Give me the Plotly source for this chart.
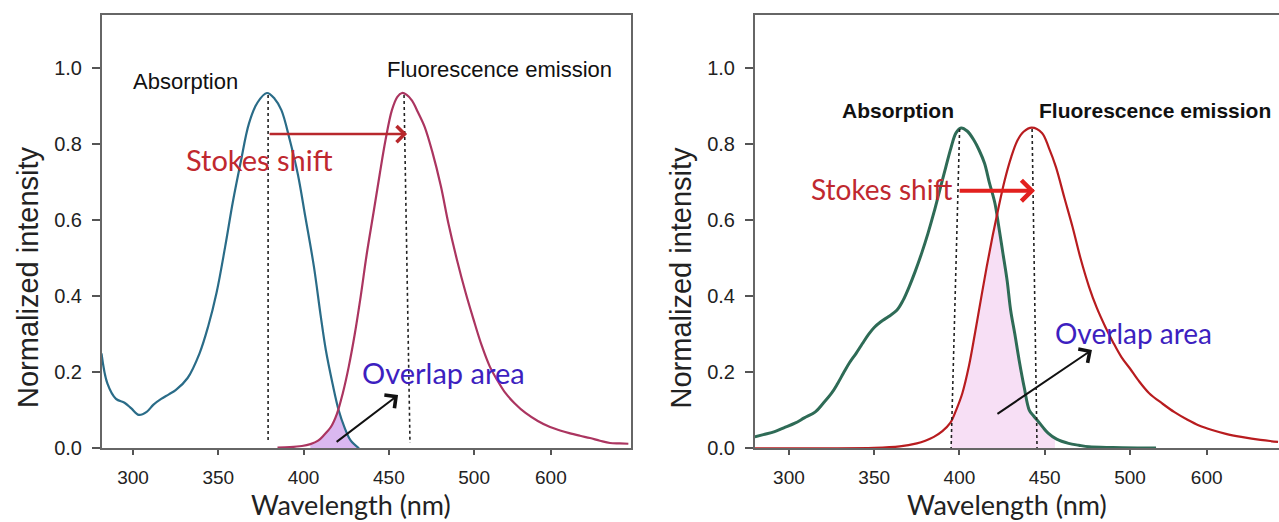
import numpy as np
import plotly.graph_objects as go

# ---------------- data (wavelength in nm, normalized intensity) ----------------
# Left panel
abs1_wl = [281.5, 285, 290, 295, 299, 303.4, 308, 312, 316.5, 321, 325, 332, 339, 344, 349, 354,
           358.6, 363, 368, 373, 378.5, 383, 387, 392, 396.7, 401, 406, 410, 413, 417, 420.6, 424,
           427.7, 432.5]
abs1_val = [0.25, 0.17, 0.13, 0.12, 0.105, 0.088, 0.096, 0.115, 0.13, 0.142, 0.153, 0.185, 0.25,
            0.32, 0.41, 0.53, 0.65, 0.75, 0.855, 0.91, 0.935, 0.92, 0.89, 0.81, 0.72, 0.61, 0.48,
            0.35, 0.26, 0.17, 0.10, 0.055, 0.02, 0.0]
em1_wl = [384.7, 392, 399, 404, 408.5, 412, 416, 419.5, 423, 426.5, 430, 433.5, 437, 441, 444.6,
          448, 451.8, 455, 457.7, 460.5, 463.6, 467, 471, 475.5, 480.5, 485, 490, 495, 499.6, 510,
          520.5, 530, 541, 553, 567, 583, 599, 612, 624, 638, 651, 664, 677, 690, 701]
em1_val = [0.002, 0.003, 0.006, 0.011, 0.02, 0.035, 0.056, 0.09, 0.145, 0.215, 0.30, 0.40, 0.51,
           0.62, 0.72, 0.81, 0.89, 0.925, 0.935, 0.93, 0.915, 0.885, 0.846, 0.78, 0.69, 0.59,
           0.495, 0.41, 0.34, 0.27, 0.215, 0.18, 0.145, 0.118, 0.093, 0.072, 0.056, 0.047, 0.04,
           0.033, 0.027, 0.02, 0.014, 0.013, 0.012]

# Right panel
abs2_wl = [280, 285, 291.6, 297, 303.5, 309, 315.5, 320, 325, 328.5, 332, 335.5, 339.4, 343, 346.7,
           350, 353.9, 358.5, 363.4, 367, 370.5, 374, 377.8, 381.5, 385, 388.5, 392, 395, 398, 401,
           404.5, 408.6, 411.5, 414.7, 417.5, 420.8, 423, 425.5, 428, 430, 432.5, 435, 438, 441,
           443.5, 446, 449, 452, 457, 464, 470, 476, 490, 510, 534]
abs2_val = [0.03, 0.036, 0.044, 0.054, 0.066, 0.08, 0.096, 0.118, 0.145, 0.17, 0.198, 0.225, 0.25,
            0.275, 0.30, 0.318, 0.333, 0.347, 0.364, 0.39, 0.425, 0.465, 0.513, 0.565, 0.62, 0.68,
            0.74, 0.79, 0.83, 0.843, 0.835, 0.81, 0.785, 0.75, 0.70, 0.645, 0.585, 0.513, 0.44,
            0.364, 0.30, 0.232, 0.16, 0.10, 0.085, 0.072, 0.055, 0.04, 0.024, 0.013, 0.008, 0.004,
            0.002, 0.001, 0.001]
em2_wl = [280, 320, 350, 365, 375, 380, 385, 390, 394.5, 398, 401.7, 405.5, 409, 412.5, 416, 419.5,
          423, 426.5, 430.4, 434, 437.6, 442.4, 448.4, 452.5, 456.6, 461.5, 466.3, 471, 476, 480.5,
          485.5, 490, 495, 500, 510.5, 525, 542, 558, 575, 590, 607, 625, 645, 670, 693]
em2_val = [0.0, 0.0, 0.001, 0.005, 0.013, 0.02, 0.03, 0.045, 0.066, 0.10, 0.145, 0.215, 0.30, 0.39,
           0.478, 0.56, 0.635, 0.705, 0.767, 0.81, 0.833, 0.844, 0.83, 0.79, 0.74, 0.66, 0.583,
           0.50, 0.425, 0.37, 0.32, 0.28, 0.24, 0.21, 0.18, 0.145, 0.118, 0.095, 0.075, 0.06, 0.048,
           0.038, 0.03, 0.022, 0.017]

tick_wl = [300, 350, 400, 450, 500, 600]
tick_labels = ["300", "350", "400", "450", "500", "600"]
y_ticks = [0.0, 0.2, 0.4, 0.6, 0.8, 1.0]

# --------------- axis warp: axis is compressed above 500 nm ----------------
K = 0.45


def to_axis(lam):
    lam = np.asarray(lam, dtype=float)
    return np.where(lam <= 500, lam, 500 + (lam - 500) * K)


W, H = 1279, 522

C_ABS1 = "#2a6c88"
C_EM1 = "#ab3560"
C_ABS2 = "#2e6b56"
C_EM2 = "#b81c1f"
C_STOKES = "#c0282f"
C_OVER = "#3d1fc0"

fig = go.Figure()


def overlap(a_wl, a_v, e_wl, e_v, lo, hi):
    g = np.linspace(lo, hi, 80)
    m = np.minimum(np.interp(g, a_wl, a_v), np.interp(g, e_wl, e_v))
    return g, m


g1, m1 = overlap(abs1_wl, abs1_val, em1_wl, em1_val, 404, 433)
g2, m2 = overlap(abs2_wl, abs2_val, em2_wl, em2_val, 395, 456)

fig.add_trace(go.Scatter(x=to_axis(g1), y=m1, fill="tozeroy", fillcolor="#dab8f0",
                         line=dict(width=0), mode="lines", xaxis="x", yaxis="y",
                         hoverinfo="skip", showlegend=False))
fig.add_trace(go.Scatter(x=to_axis(g2), y=m2, fill="tozeroy", fillcolor="#f7dff5",
                         line=dict(width=0), mode="lines", xaxis="x2", yaxis="y2",
                         hoverinfo="skip", showlegend=False))

fig.add_trace(go.Scatter(x=to_axis(abs1_wl), y=abs1_val, mode="lines", name="Absorption",
                         line=dict(color=C_ABS1, width=2.2, shape="spline"), xaxis="x", yaxis="y",
                         showlegend=False))
fig.add_trace(go.Scatter(x=to_axis(em1_wl), y=em1_val, mode="lines", name="Fluorescence emission",
                         line=dict(color=C_EM1, width=2.2, shape="spline"), xaxis="x", yaxis="y",
                         showlegend=False))
fig.add_trace(go.Scatter(x=to_axis(abs2_wl), y=abs2_val, mode="lines", name="Absorption",
                         line=dict(color=C_ABS2, width=3, shape="spline"), xaxis="x2", yaxis="y2",
                         showlegend=False))
fig.add_trace(go.Scatter(x=to_axis(em2_wl), y=em2_val, mode="lines", name="Fluorescence emission",
                         line=dict(color=C_EM2, width=2.2, shape="spline"), xaxis="x2", yaxis="y2",
                         showlegend=False))

# dotted peak markers
dots = [("x", "y", 379.2, 0.93, 379.2, 0.015),
        ("x", "y", 458.9, 0.93, 462.4, 0.014),
        ("x2", "y2", 400.1, 0.84, 395.1, 0.0),
        ("x2", "y2", 442.6, 0.84, 445.5, 0.0)]
for xr, yr, x0, y0, x1, y1 in dots:
    fig.add_shape(type="line", xref=xr, yref=yr, x0=x0, y0=y0, x1=x1, y1=y1,
                  line=dict(color="#222", width=1.6, dash="dot"))

ann = []
# arrows
ann.append(dict(xref="x", yref="y", axref="x", ayref="y", x=460.7, y=0.827, ax=379.2, ay=0.827,
                text="", showarrow=True, arrowhead=4, arrowsize=1.2, arrowwidth=2.6,
                arrowcolor="#b8282c"))
ann.append(dict(xref="x", yref="y", axref="x", ayref="y", x=455.4, y=0.14, ax=418.5, ay=0.014,
                text="", showarrow=True, arrowhead=4, arrowsize=1.6, arrowwidth=2,
                arrowcolor="#111"))
ann.append(dict(xref="x2", yref="y2", axref="x2", ayref="y2", x=444.3, y=0.678, ax=399.2, ay=0.678,
                text="", showarrow=True, arrowhead=4, arrowsize=1.0, arrowwidth=4,
                arrowcolor="#e2201e"))
ann.append(dict(xref="x2", yref="y2", axref="x2", ayref="y2", x=477.7, y=0.259, ax=421.4, ay=0.088,
                text="", showarrow=True, arrowhead=4, arrowsize=1.6, arrowwidth=2,
                arrowcolor="#111"))

LAB = "Liberation Sans, Arial, sans-serif"
HUM = "Lato, Open Sans, sans-serif"
# text labels
ann += [
    dict(xref="x", yref="y", x=330.5, y=0.964, text="Absorption", showarrow=False,
         font=dict(family=LAB, size=22, color="#111")),
    dict(xref="x", yref="y", x=514.6, y=0.998, text="Fluorescence emission", showarrow=False,
         font=dict(family=LAB, size=22, color="#111")),
    dict(xref="x", yref="y", x=373.9, y=0.759, text="Stokes shift", showarrow=False,
         font=dict(family=HUM, size=29, color=C_STOKES)),
    dict(xref="x", yref="y", x=481.8, y=0.20, text="Overlap area", showarrow=False,
         font=dict(family=HUM, size=29, color=C_OVER)),
    dict(xref="x2", yref="y2", x=364.0, y=0.888, text="<b>Absorption</b>", showarrow=False,
         font=dict(family=LAB, size=21, color="#111")),
    dict(xref="x2", yref="y2", x=514.7, y=0.888, text="<b>Fluorescence emission</b>",
         showarrow=False, font=dict(family=LAB, size=21, color="#111")),
    dict(xref="x2", yref="y2", x=354.6, y=0.683, text="Stokes shift", showarrow=False,
         font=dict(family=HUM, size=28, color=C_STOKES)),
    dict(xref="x2", yref="y2", x=501.8, y=0.304, text="Overlap area", showarrow=False,
         font=dict(family=HUM, size=28, color=C_OVER)),
]
# axis titles (paper coords; margins are zero so paper == figure)
for cx in (351, 1007):
    ann.append(dict(xref="paper", yref="paper", x=cx / W, y=(H - 504) / H, text="Wavelength (nm)",
                    showarrow=False, xanchor="center", yanchor="middle",
                    font=dict(family=HUM, size=27, color="#222")))
for cx in (28.5, 681):
    ann.append(dict(xref="paper", yref="paper", x=cx / W, y=(H - 277.5) / H,
                    text="Normalized intensity", textangle=-90, showarrow=False,
                    xanchor="center", yanchor="middle",
                    font=dict(family=LAB, size=29, color="#222")))

y_dom = [(H - 448.3) / H, (H - 15) / H]
y_top = (448.3 - 15) / 380

xcommon = dict(tickmode="array", tickvals=to_axis(tick_wl), ticktext=tick_labels,
               ticks="outside", ticklen=5, tickwidth=1.5, tickcolor="#555", automargin=False,
               showline=True, linecolor="#666", linewidth=2, showgrid=False, zeroline=False,
               tickfont=dict(family=LAB, size=19, color="#222"), ticklabelstandoff=6)
ycommon = dict(tickmode="array", tickvals=y_ticks, ticktext=[f"{v:.1f}" for v in y_ticks],
               range=[0, y_top], ticks="outside", ticklen=8, tickwidth=1.5, tickcolor="#555",
               automargin=False,
               showline=True, linecolor="#666", linewidth=2, showgrid=False, zeroline=False,
               tickfont=dict(family=LAB, size=20, color="#222"), ticklabelstandoff=6)

fig.update_layout(
    width=W, height=H, margin=dict(l=0, r=0, t=0, b=0, autoexpand=False),
    paper_bgcolor="white", plot_bgcolor="white", showlegend=False,
    xaxis=dict(domain=[102 / W, 631 / W], range=[281.8, 592], mirror=True, anchor="y", **xcommon),
    yaxis=dict(domain=y_dom, mirror=True, anchor="x", **ycommon),
    xaxis2=dict(domain=[755 / W, 1.0], range=[280.1, 587.4], mirror=True, anchor="y2", **xcommon),
    yaxis2=dict(domain=y_dom, mirror=False, anchor="x2", **ycommon),
    annotations=ann,
)

fig.write_html("out.html", config={"displayModeBar": False},
               post_script="document.body.style.margin='0';document.body.style.overflow='hidden';")
